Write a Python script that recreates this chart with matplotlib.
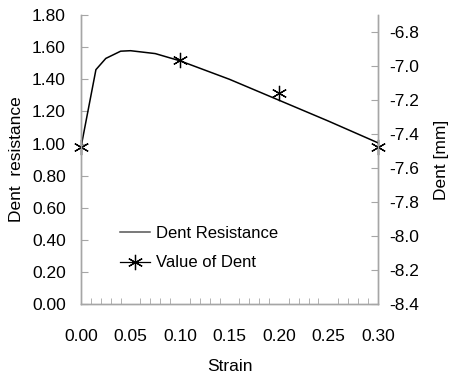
import numpy as np
import matplotlib.pyplot as plt
from matplotlib.lines import Line2D
from matplotlib.ticker import MultipleLocator

plt.rcParams['font.family'] = ['Liberation Sans', 'DejaVu Sans']

# dent resistance curve (left axis)
strain_curve = [0.0, 0.015, 0.025, 0.04, 0.05, 0.075, 0.10, 0.15, 0.20, 0.25, 0.30]
resistance = [0.98, 1.46, 1.53, 1.575, 1.578, 1.56, 1.515, 1.40, 1.27, 1.14, 1.005]

# measured dent (right axis)
strain_dent = [0.0, 0.10, 0.20, 0.30]
dent_mm = [-7.475, -6.965, -7.157, -7.476]

gray = '#a6a6a6'
star = (6, 2, 0)

fig = plt.figure(figsize=(4.53, 3.76), dpi=100)
ax = fig.add_axes([0.179, 0.191, 0.655, 0.769])
ax2 = ax.twinx()

ax.plot(strain_curve, resistance, color='black', lw=1.1)
ax2.plot(strain_dent, dent_mm, linestyle='None', marker=star, ms=11,
         mec='black', mew=0.9, color='black', clip_on=False)

ax.set_xlim(0, 0.3)
ax.set_ylim(0, 1.8)
ax2.set_ylim(-8.4, -6.7)

ax.set_xticks(np.arange(0, 0.31, 0.05))
ax.set_xticklabels([f'{v:.2f}' for v in np.arange(0, 0.31, 0.05)])
ax.xaxis.set_minor_locator(MultipleLocator(0.01))
ax.set_yticks(np.arange(0, 1.81, 0.2))
ax.set_yticklabels([f'{v:.2f}' for v in np.arange(0, 1.81, 0.2)])
ax2.set_yticks(np.arange(-8.4, -6.79, 0.2))
ax2.set_yticklabels([f'{v:.1f}' for v in np.arange(-8.4, -6.79, 0.2)])

for a in (ax, ax2):
    a.spines['top'].set_visible(False)
    for s in ('left', 'right', 'bottom'):
        a.spines[s].set_color(gray)
        a.spines[s].set_linewidth(1.0)

ax.tick_params(axis='x', which='major', length=0, pad=18, labelsize=12.5)
ax.tick_params(axis='x', which='minor', direction='in', length=4, color=gray)
ax.tick_params(axis='y', direction='in', length=5, color=gray, pad=11, labelsize=12.5)
ax2.tick_params(axis='y', direction='in', length=5, color=gray, pad=8, labelsize=12.5)

ax.set_xlabel('Strain', fontsize=12.5, labelpad=11)
ax.set_ylabel('Dent  resistance', fontsize=12.5, labelpad=6)
ax2.set_ylabel('Dent [mm]', fontsize=12.5, labelpad=11)

handles = [Line2D([], [], color='#555555', lw=1.1),
           Line2D([], [], color='black', lw=0.9, marker=star, ms=11, mew=0.9)]
ax.legend(handles, ['Dent Resistance', 'Value of Dent'], loc='lower left',
          bbox_to_anchor=(0.08, 0.065), frameon=False, fontsize=12,
          handlelength=1.8, handletextpad=0.35, labelspacing=0.85)

fig.savefig('out.png', dpi=100)
